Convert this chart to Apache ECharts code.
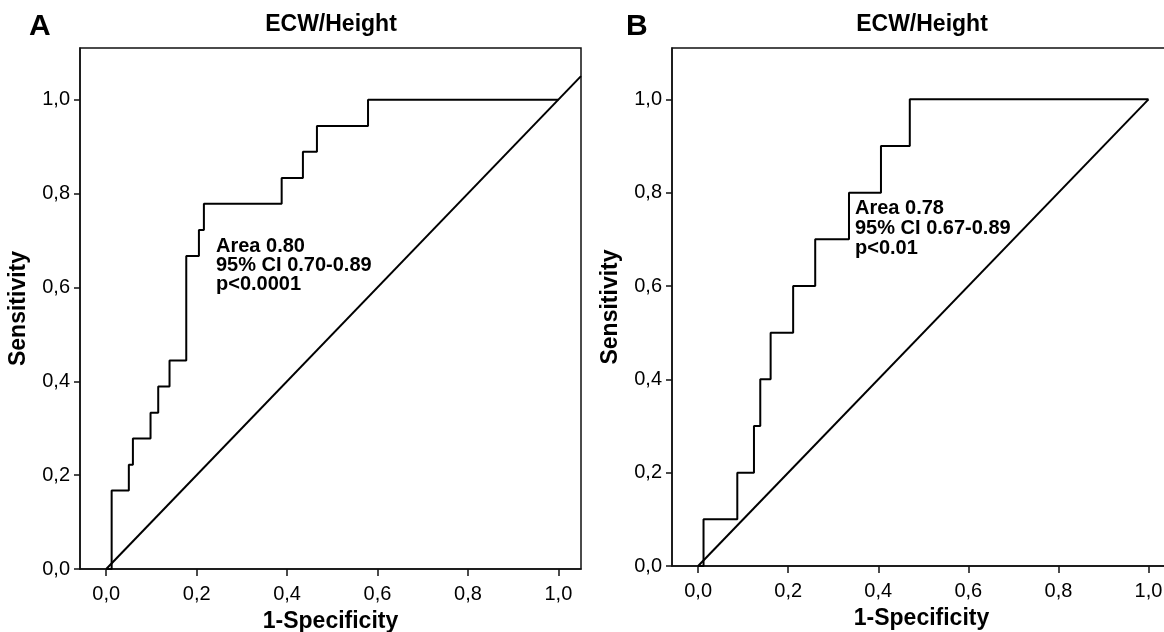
<!DOCTYPE html>
<html>
<head>
<meta charset="utf-8">
<script src="https://cdn.jsdelivr.net/npm/echarts@6/dist/echarts.min.js"></script>
<style>
html,body{margin:0;padding:0;background:#fff}
#main{width:1164px;height:632px}
</style>
</head>
<body>
<div id="main"></div>
<script>
// ROC corner points: 1-specificity / sensitivity
var fprA = [0, 0.012, 0.050, 0.059, 0.098, 0.115, 0.140, 0.177, 0.205, 0.216, 0.388, 0.435, 0.466, 0.579, 1.0];
var tprA = [0, 0.167, 0.222, 0.278, 0.333, 0.389, 0.444, 0.667, 0.722, 0.778, 0.833, 0.889, 0.944, 1.0, 1.0];
var fprB = [0, 0.012, 0.087, 0.124, 0.138, 0.161, 0.211, 0.260, 0.335, 0.406, 0.470, 1.0];
var tprB = [0, 0.1, 0.2, 0.3, 0.4, 0.5, 0.6, 0.7, 0.8, 0.9, 1.0, 1.0];
// reference diagonals
var refA = [0, 1.05];
var refB = [0, 1.0];
var axisTicks = [0, 0.2, 0.4, 0.6, 0.8, 1.0];
var panelLetters = ['A', 'B'];
var panelTitle = 'ECW/Height';
var statsA = ['Area 0.80', '95% CI 0.70-0.89', 'p<0.0001'];
var statsB = ['Area 0.78', '95% CI 0.67-0.89', 'p<0.01'];

function zip(xs, ys) {
    return xs.map(function (x, i) { return [x, ys[i]]; });
}
function comma(v) {
    return v.toFixed(1).replace('.', ',');
}

var chart = echarts.init(document.getElementById('main'));

var tickFont = { color: '#000', fontSize: 20, fontFamily: 'Liberation Sans' };
var nameFont = { color: '#000', fontSize: 23, fontWeight: 'bold', fontFamily: 'Liberation Sans' };

function xAxisFor(idx) {
    return {
        type: 'value', gridIndex: idx, min: -0.058, max: 1.05,
        name: '1-Specificity', nameLocation: 'middle', nameGap: 41, nameTextStyle: nameFont,
        axisLine: { show: true, onZero: false, lineStyle: { color: '#111', width: 1.5 } },
        axisTick: { show: true, length: 7, customValues: axisTicks, lineStyle: { color: '#111', width: 1.5 } },
        axisLabel: { customValues: axisTicks, formatter: comma, margin: 15, textStyle: tickFont },
        splitLine: { show: false }
    };
}
function yAxisFor(idx) {
    return {
        type: 'value', gridIndex: idx, min: 0, max: 1.11,
        name: 'Sensitivity', nameLocation: 'middle', nameGap: 50, nameTextStyle: nameFont,
        axisLine: { show: true, onZero: false, lineStyle: { color: '#111', width: 1.5 } },
        axisTick: { show: true, length: 6, customValues: axisTicks, lineStyle: { color: '#111', width: 1.5 } },
        axisLabel: { customValues: axisTicks, formatter: comma, margin: 10, textStyle: tickFont },
        splitLine: { show: false }
    };
}
function lineSeries(idx, data, step) {
    return {
        type: 'line', xAxisIndex: idx, yAxisIndex: idx, data: data,
        step: step, showSymbol: false, symbol: 'none', silent: true,
        lineStyle: { color: '#000', width: 2 }
    };
}

var option = {
    backgroundColor: '#ffffff',
    animation: false,
    grid: [
        { left: 80, top: 48, right: 583, bottom: 63, containLabel: false, outerBoundsMode: 'none',
          show: true, borderColor: '#111', borderWidth: 1.5 },
        { left: 672, top: 48, right: -7, bottom: 66, containLabel: false, outerBoundsMode: 'none',
          show: true, borderColor: '#111', borderWidth: 1.5 }
    ],
    xAxis: [xAxisFor(0), xAxisFor(1)],
    yAxis: [yAxisFor(0), yAxisFor(1)],
    series: [
        lineSeries(0, zip(refA, refA), false),
        lineSeries(0, zip(fprA, tprA), 'end'),
        lineSeries(1, zip(refB, refB), false),
        lineSeries(1, zip(fprB, tprB), 'end')
    ],
    graphic: [
        { type: 'text', x: 29, y: 12, style: { text: panelLetters[0], font: 'bold 30px "Liberation Sans"', fill: '#000' } },
        { type: 'text', x: 626, y: 12, style: { text: panelLetters[1], font: 'bold 30px "Liberation Sans"', fill: '#000' } },
        { type: 'text', x: 331, y: 25, style: { text: panelTitle, font: 'bold 23px "Liberation Sans"', fill: '#000', textAlign: 'center', textVerticalAlign: 'middle' } },
        { type: 'text', x: 922, y: 25, style: { text: panelTitle, font: 'bold 23px "Liberation Sans"', fill: '#000', textAlign: 'center', textVerticalAlign: 'middle' } },
        { type: 'text', x: 216, y: 237, style: { text: statsA.join('\n'), font: 'bold 20px "Liberation Sans"', lineHeight: 19, fill: '#000' } },
        { type: 'text', x: 855, y: 198, style: { text: statsB.join('\n'), font: 'bold 20px "Liberation Sans"', lineHeight: 20, fill: '#000' } }
    ]
};

chart.setOption(option);
</script>
</body>
</html>
